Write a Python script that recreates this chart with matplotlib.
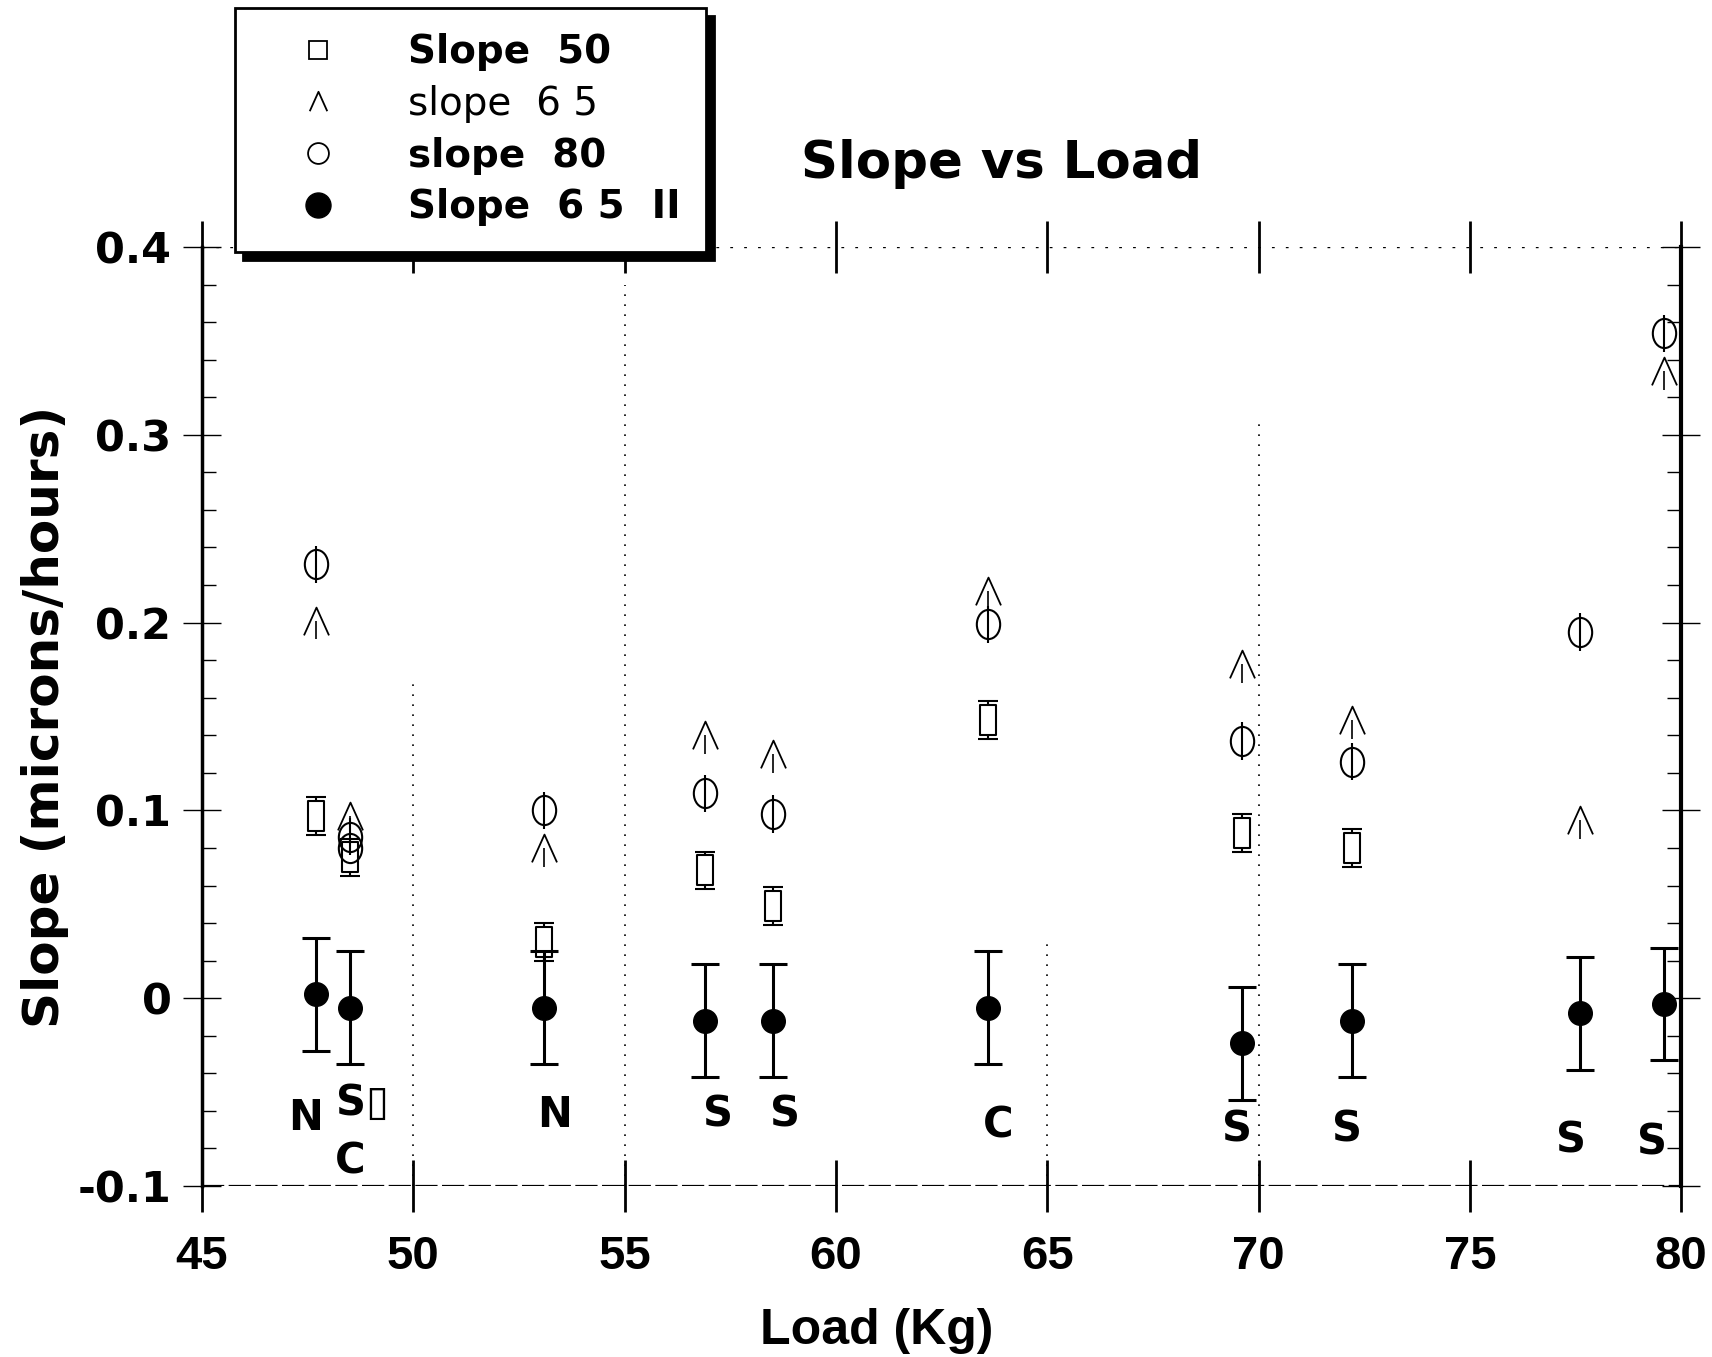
import numpy as np
import matplotlib
matplotlib.use("Agg")
import matplotlib.pyplot as plt
from matplotlib.path import Path
from matplotlib.ticker import MultipleLocator

# values
loads = [47.7, 48.5, 53.1, 56.9, 58.5, 63.6, 69.6, 72.2, 77.6, 79.6]
slope50 = [0.097, 0.075, 0.030, 0.068, 0.049, 0.148, 0.088, 0.080, np.nan, np.nan]
slope65 = [0.201, 0.097, 0.080, 0.140, 0.130, 0.217, 0.178, 0.148, 0.095, 0.334]
slope80 = [0.231, 0.086, 0.100, 0.109, 0.098, 0.199, 0.137, 0.126, 0.195, 0.354]
slope80_extra_x = [48.5]
slope80_extra_y = [0.080]
slope65_ii = [0.002, -0.005, -0.005, -0.012, -0.012, -0.005, -0.024, -0.012, -0.008, -0.003]
err_ii = 0.030
err_open = 0.010

labels_txt = ["N", "S\u25af", "C", "N", "S", "S", "C", "S", "S", "S", "S"]
labels_x = [47.45, 48.8, 48.5, 53.35, 57.2, 58.8, 63.85, 69.5, 72.1, 77.4, 79.3]
labels_y = [-0.064, -0.056, -0.087, -0.062, -0.062, -0.062, -0.068, -0.070, -0.070, -0.076, -0.077]

xticks = [45, 50, 55, 60, 65, 70, 75, 80]
yticks = [-0.1, 0, 0.1, 0.2, 0.3, 0.4]
ytick_labels = ["-0.1", "0", "0.1", "0.2", "0.3", "0.4"]

narrow = ["Liberation Sans", "DejaVu Sans"]

# marker shapes like the old plot: tall box and an open caret
box = Path([(-0.55, -1), (0.55, -1), (0.55, 1), (-0.55, 1), (-0.55, -1)],
           [Path.MOVETO, Path.LINETO, Path.LINETO, Path.LINETO, Path.CLOSEPOLY])
caret = Path([(-0.9, -1), (0, 1), (0.9, -1)], [Path.MOVETO, Path.LINETO, Path.LINETO])
oval = Path.unit_circle().transformed(matplotlib.transforms.Affine2D().scale(0.8, 1.0))

fig = plt.figure(figsize=(17.12, 13.57), dpi=100)
ax = fig.add_axes([0.118, 0.126, 0.864, 0.692])
ax.set_xlim(45, 80)
ax.set_ylim(-0.1, 0.4)

# partial dotted verticals as in the scan
ax.vlines([50], -0.1, 0.17, colors="black", linestyles=(0, (1, 5)), lw=1.2)
ax.vlines([55], -0.1, 0.38, colors="black", linestyles=(0, (1, 5)), lw=1.2)
ax.vlines([65], -0.1, 0.03, colors="black", linestyles=(0, (1, 5)), lw=1.2)
ax.vlines([70], -0.1, 0.31, colors="black", linestyles=(0, (1, 5)), lw=1.2)
ax.axhline(0.4, color="black", ls=(0, (2, 8)), lw=1.0)
ax.axhline(-0.1, color="black", ls=(0, (10, 2)), lw=1.6)

ax.errorbar(loads, slope50, yerr=err_open, fmt="none", ecolor="black", elinewidth=1.5, capsize=7, capthick=1.5)
ax.plot(loads, slope50, ls="none", marker=box, ms=22, mfc="white", mec="black", mew=1.5)

ax.errorbar(loads, slope65, yerr=[[err_open] * len(loads), [0] * len(loads)], fmt="none",
            ecolor="black", elinewidth=1.2, capsize=0)
ax.plot(loads, slope65, ls="none", marker=caret, ms=20, mfc="none", mec="black", mew=1.3)

ax.errorbar(loads, slope80, yerr=err_open, fmt="none", ecolor="black", elinewidth=1.5, capsize=0)
ax.plot(loads, slope80, ls="none", marker=oval, ms=21, mfc="none", mec="black", mew=1.5)
ax.plot(slope80_extra_x, slope80_extra_y, ls="none", marker=oval, ms=21, mfc="none", mec="black", mew=1.5)

ax.errorbar(loads, slope65_ii, yerr=err_ii, fmt="o", ms=17, mfc="black", mec="black",
            ecolor="black", elinewidth=2.2, capsize=10, capthick=2.2)

for t, x, y in zip(labels_txt, labels_x, labels_y):
    ax.text(x, y, t, ha="center", va="center", fontsize=30, fontweight="bold", family="DejaVu Sans")

# axes frame
ax.spines["top"].set_visible(False)
ax.spines["bottom"].set_visible(False)
ax.spines["left"].set_linewidth(2.5)
ax.spines["right"].set_linewidth(3.0)

ax.set_xticks(xticks)
ax.set_xticklabels([str(v) for v in xticks], fontsize=34, fontweight="bold", family=narrow)
ax.tick_params(axis="x", which="major", direction="inout", length=38, width=2, pad=16, top=True)
ax.set_yticks(yticks)
ax.set_yticklabels(ytick_labels, fontsize=31, fontweight="bold")
ax.yaxis.set_minor_locator(MultipleLocator(0.02))
ax.tick_params(axis="y", which="major", direction="inout", length=28, width=1.0, pad=8, right=True)
ax.tick_params(axis="y", which="minor", direction="in", length=10, width=1.0, right=True)

ax.set_xlabel("Load (Kg)", fontsize=36, fontweight="bold", family=narrow)
ax.xaxis.set_label_coords(0.456, -0.13)
ax.set_ylabel("Slope (microns/hours)", fontsize=36, fontweight="bold", labelpad=6)

fig.text(0.585, 0.879, "Slope vs Load", ha="center", va="center", fontsize=37, fontweight="bold")

# legend box with a hard black shadow
h1, = ax.plot([], [], ls="none", marker="s", ms=13, mfc="white", mec="black", mew=1.3)
h2, = ax.plot([], [], ls="none", marker=caret, ms=14, mfc="none", mec="black", mew=1.3)
h3, = ax.plot([], [], ls="none", marker="o", ms=15, mfc="none", mec="black", mew=1.3)
h4, = ax.plot([], [], ls="none", marker="o", ms=18, mfc="black", mec="black")
leg = fig.legend([h1, h2, h3, h4], ["Slope  50", "slope  6 5", "slope  80", "Slope  6 5  II"],
                 loc="upper left", bbox_to_anchor=(0.137, 0.994), borderaxespad=0, fontsize=28,
                 frameon=True, fancybox=False, edgecolor="black", borderpad=0.65,
                 labelspacing=0.35, handletextpad=0.8, handlelength=3.0,
                 shadow={"ox": 6, "oy": -6, "color": "black", "alpha": 1.0})
leg.get_frame().set_linewidth(2.0)
weights = ["bold", "normal", "semibold", "bold"]
for txt, w in zip(leg.get_texts(), weights):
    txt.set_fontweight(w)
leg.set_zorder(10)

fig.savefig("out.png", dpi=100)
